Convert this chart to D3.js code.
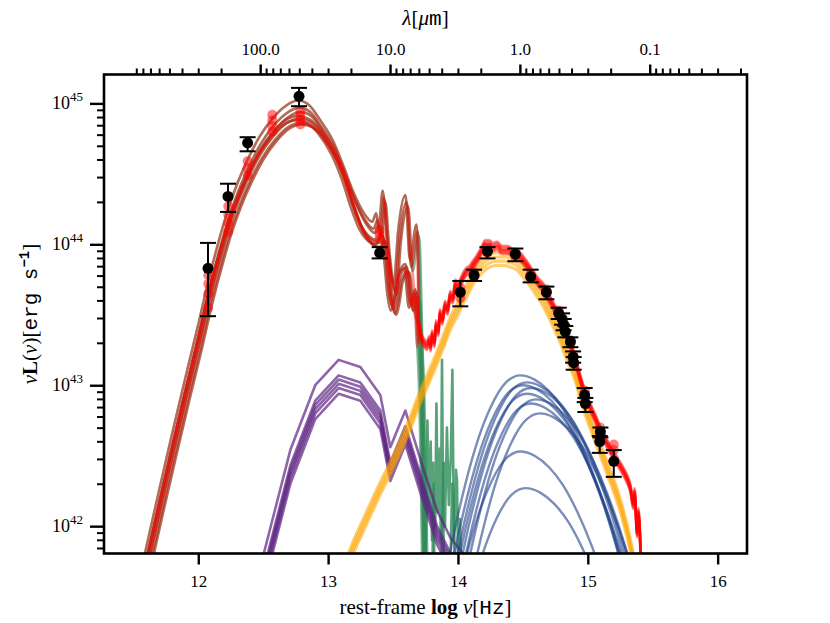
<!DOCTYPE html>
<html>
<head>
<meta charset="utf-8">
<script src="https://cdn.jsdelivr.net/npm/d3@7"></script>
<style>
body { margin: 0; background: #fff; }
text { font-family: "Liberation Serif", "DejaVu Serif", serif; fill: #000; }
.mono { font-family: "Liberation Mono", "DejaVu Sans Mono", monospace; }
</style>
</head>
<body>
<svg id="sed" width="830" height="623"></svg>
<script>
// all values are [log10 nu (Hz), log10 nuL (erg/s)]

// cold dust / starburst templates
var sbStrong = [[11.40,40.95],[11.50,41.38],[11.60,41.80],[11.70,42.21],[11.80,42.61],[11.90,43.00],[12.00,43.38],
	[12.08,43.70],[12.16,43.98],[12.23,44.20],[12.30,44.38],[12.38,44.55],[12.47,44.71],[12.57,44.84],[12.67,44.93],
	[12.77,44.97],[12.85,44.94],[12.94,44.83],[13.04,44.68],[13.12,44.50],[13.19,44.33],[13.27,44.18],[13.34,44.11],
	[13.37,44.17],[13.39,44.07],[13.42,44.33],[13.45,44.00],[13.475,43.79],[13.505,43.67],[13.54,44.05],[13.595,44.30],
	[13.63,43.84],[13.68,44.09],[13.705,43.35],[13.715,42.85],[13.725,42.25],[13.735,41.55]];
var sbWeak = [[11.40,40.90],[11.50,41.33],[11.60,41.75],[11.70,42.16],[11.80,42.56],[11.90,42.95],[12.00,43.33],
	[12.08,43.65],[12.16,43.93],[12.23,44.15],[12.30,44.33],[12.38,44.50],[12.47,44.66],[12.57,44.79],[12.67,44.88],
	[12.77,44.91],[12.85,44.89],[12.94,44.81],[13.04,44.66],[13.12,44.48],[13.19,44.28],[13.25,44.14],[13.30,44.07],
	[13.34,44.04],[13.38,44.03],[13.41,44.08],[13.44,43.94],[13.466,43.68],[13.492,43.56],[13.52,43.65],[13.543,43.79],
	[13.595,43.86],[13.633,43.58],[13.672,43.68],[13.697,43.30],[13.71,43.02],[13.72,42.62],[13.73,42.02],[13.74,41.50]];
var sbPick = ["s","s","s","w","w","w","w","w"];
var sbShiftNu = [0, 0.01, 0.02, 0, 0.01, -0.01, 0.02, 0.03];
var sbShiftL = [0.05, 0, -0.03, 0, -0.02, -0.03, -0.05, -0.06];
var sbNoise = [
	[[13.75,41.6],[13.765,42.75],[13.775,42.1],[13.79,42.6],[13.80,41.9],[13.81,42.45],[13.82,41.6]],
	[[13.80,41.6],[13.815,42.3],[13.825,42.0],[13.834,42.87],[13.845,42.1],[13.86,42.55],[13.868,41.9],[13.877,43.18],[13.886,42.1],[13.895,41.6]],
	[[13.87,41.6],[13.89,42.45],[13.90,42.0],[13.915,42.7],[13.93,42.15],[13.945,42.5],[13.957,43.11],[13.966,42.2],[13.975,41.6]],
	[[13.94,41.6],[13.955,42.3],[13.97,41.9],[13.985,42.4],[13.993,42.32],[14.00,41.8],[14.015,42.05],[14.03,41.6]]
];

// torus
var torusBase = [[12.40,41.40],[12.503,41.80],[12.709,42.54],[12.901,43.00],[13.081,43.18],[13.248,43.13],[13.402,42.93],
	[13.479,42.56],[13.595,42.82],[13.736,42.40],[13.839,42.11],[13.941,41.92],[14.044,41.80],[14.15,41.65]];
var torusShiftL = [0, -0.11, -0.14, -0.17, -0.20, -0.24];

// host galaxy stars
var starBase = [[13.10,41.62],[13.17,41.80],[13.30,42.07],[13.40,42.27],[13.48,42.42],[13.56,42.58],[13.63,42.73],
	[13.70,42.90],[13.77,43.05],[13.83,43.18],[13.89,43.32],[13.94,43.44],[14.00,43.55],[14.04,43.63],[14.08,43.70],
	[14.12,43.77],[14.16,43.82],[14.20,43.86],[14.25,43.89],[14.30,43.90],[14.35,43.90],[14.40,43.89],[14.45,43.87],
	[14.50,43.82],[14.55,43.76],[14.60,43.69],[14.65,43.62],[14.70,43.53],[14.74,43.45],[14.78,43.37],[14.82,43.27],
	[14.86,43.18],[14.90,43.09],[14.94,42.96],[14.98,42.84],[15.02,42.74],[15.06,42.64],[15.10,42.54],[15.14,42.44],
	[15.18,42.34],[15.22,42.24],[15.26,42.12],[15.30,41.98],[15.33,41.86],[15.36,41.72]];
var starShiftL = [0.04, 0.01, -0.02, -0.05];

// big blue bump: shape relative to its peak, and the peaks
var bbbShape = [[-0.62,-1.65],[-0.52,-1.16],[-0.42,-0.76],[-0.32,-0.44],[-0.22,-0.21],[-0.11,-0.05],[0,0],
	[0.11,-0.03],[0.22,-0.11],[0.33,-0.24],[0.44,-0.43],[0.55,-0.67],[0.66,-0.96],[0.77,-1.31],[0.88,-1.71]];
var bbbPeakNu = [14.48, 14.53, 14.50, 14.56, 14.53, 14.60, 14.56, 14.63, 14.48, 14.52];
var bbbPeakL = [43.07, 43.02, 43.00, 42.98, 42.94, 42.90, 42.87, 42.80, 42.53, 42.27];

// total model beyond the dust cut-off
var totalOpt = [[13.70,43.42],[13.72,43.33],[13.74,43.30],[13.76,43.28],[13.78,43.32],[13.79,43.27],[13.80,43.36],
	[13.82,43.30],[13.83,43.43],[13.85,43.38],[13.86,43.51],[13.88,43.46],[13.90,43.57],[13.92,43.53],[13.94,43.64],
	[13.96,43.61],[13.98,43.72],[14.00,43.70],[14.03,43.75],[14.06,43.80],[14.09,43.82],[14.12,43.86],[14.15,43.90],
	[14.18,43.95],[14.21,44.00],[14.24,44.00],[14.27,43.98],[14.30,43.99],[14.34,43.96],[14.38,43.96],[14.42,43.94],
	[14.46,43.93],[14.50,43.89],[14.54,43.84],[14.58,43.78],[14.62,43.73],[14.66,43.69],[14.70,43.62],[14.74,43.55],
	[14.78,43.48],[14.82,43.40],[14.86,43.30],[14.89,43.22],[14.92,43.12],[14.95,43.02],[14.98,42.93],[15.02,42.84],
	[15.06,42.76],[15.10,42.67],[15.14,42.60],[15.18,42.53],[15.22,42.47],[15.26,42.41],[15.30,42.34],[15.33,42.26],
	[15.35,42.15],[15.36,42.24],[15.38,41.95],[15.39,42.10],[15.41,41.70]];
var totalOptShiftL = [0.02, 0, -0.02, 0.03, -0.01, 0.01, -0.03, 0];
var totalCut = 13.70;

// model photometry
var modelNu = [12.077, 12.231, 12.380, 12.570, 12.786, 13.397, 14.018, 14.124, 14.227, 14.442, 14.560, 14.681,
	14.776, 14.814, 14.866, 14.889, 14.978, 15.095, 15.200];
var modelL = [[43.78,43.72,43.65,43.55],[44.27,44.21,44.15,44.09],[44.59,44.54,44.49],[44.92,44.88,44.84,44.80],
	[44.94,44.91,44.88,44.85],[44.10,44.07,44.04],[43.69,43.65,43.62],[43.80,43.77],[43.97,43.94],[43.94,43.91],
	[43.79,43.76],[43.68,43.65],[43.53,43.50],[43.44,43.41],[43.32,43.29],[43.21,43.17],[42.96,42.91],[42.70,42.65],
	[42.58,42.54]];

// observed photometry
var obsNu = [12.075, 12.229, 12.380, 12.776, 13.397, 14.018, 14.124, 14.227, 14.442, 14.560, 14.681, 14.776,
	14.802, 14.814, 14.827, 14.866, 14.887, 14.891, 14.976, 14.981, 15.097, 15.092, 15.200];
var obsL = [43.83, 44.34, 44.72, 45.05, 43.94, 43.66, 43.78, 43.95, 43.93, 43.77, 43.66, 43.51,
	43.47, 43.43, 43.38, 43.31, 43.20, 43.16, 42.93, 42.87, 42.67, 42.60, 42.46];
var obsHi = [44.01, 44.43, 44.76, 45.11, 43.98, 43.74, 43.82, 43.98, 43.97, 43.82, 43.70, 43.55,
	43.51, 43.47, 43.42, 43.34, 43.24, 43.20, 42.98, 42.91, 42.70, 42.64, 42.54];
var obsLo = [43.49, 44.23, 44.66, 44.98, 43.90, 43.56, 43.74, 43.90, 43.88, 43.73, 43.61, 43.47,
	43.43, 43.39, 43.34, 43.27, 43.16, 43.11, 42.88, 42.81, 42.63, 42.52, 42.35];

var xMajor = [12, 13, 14, 15, 16];
var yMajor = [42, 43, 44, 45];
var lamMajor = [100, 10, 1, 0.1];
var lamLabels = ["100.0", "10.0", "1.0", "0.1"];

var m = {l: 104, r: 747, t: 74.5, b: 553.5};
var cLight = 2.998e14; // micron / s

var svg = d3.select("#sed");

var x = d3.scaleLinear().domain([11.274, 16.226]).range([m.l, m.r]);
var y = d3.scaleLog().domain([Math.pow(10, 41.806), Math.pow(10, 45.205)]).range([m.b, m.t]);

svg.append("clipPath").attr("id", "box")
	.append("rect").attr("x", m.l).attr("y", m.t).attr("width", m.r - m.l).attr("height", m.b - m.t);

var plot = svg.append("g").attr("clip-path", "url(#box)");

var smooth = d3.line()
	.x(function(d){ return x(d[0]); })
	.y(function(d){ return y(Math.pow(10, d[1])); })
	.curve(d3.curveMonotoneX);
var straight = d3.line()
	.x(function(d){ return x(d[0]); })
	.y(function(d){ return y(Math.pow(10, d[1])); });

function shift(pts, dv, dL){
	return pts.map(function(p){ return [p[0] + dv, p[1] + dL]; });
}

function drawCurve(pts, gen, color, op, w){
	plot.append("path")
		.attr("d", gen(pts))
		.attr("fill", "none")
		.attr("stroke", color)
		.attr("stroke-opacity", op)
		.attr("stroke-width", w)
		.attr("stroke-linejoin", "round");
}

// starburst
var sbRuns = [];
for(var i = 0; i < sbPick.length; i++){
	var base = sbPick[i] == "s" ? sbStrong : sbWeak;
	sbRuns.push(shift(base, sbShiftNu[i], sbShiftL[i]));
	drawCurve(sbRuns[i], smooth, "#2e8b57", 0.6, 2.6);
}
for(var i = 0; i < sbNoise.length; i++){
	drawCurve(sbNoise[i], straight, "#2e8b57", 0.8, 2.6);
}

// torus
for(var i = 0; i < torusShiftL.length; i++){
	drawCurve(shift(torusBase, 0, torusShiftL[i]), straight, "#5e2483", 0.7, 2.6);
}

// big blue bump
for(var i = 0; i < bbbPeakNu.length; i++){
	drawCurve(shift(bbbShape, bbbPeakNu[i], bbbPeakL[i]), smooth, "#22438a", 0.6, 2.4);
}

// stars
for(var i = 0; i < starShiftL.length; i++){
	drawCurve(shift(starBase, 0, starShiftL[i]), smooth, "#ffa500", 0.55, 3.2);
}

// total
for(var i = 0; i < sbRuns.length; i++){
	var head = sbRuns[i].filter(function(p){ return p[0] < totalCut; });
	var tail = shift(totalOpt, 0, totalOptShiftL[i]).filter(function(p){ return p[0] >= totalCut; });
	drawCurve(head.concat(tail), smooth, "#ff0000", 0.42, 2.6);
}

// model photometry
for(var i = 0; i < modelNu.length; i++){
	for(var j = 0; j < modelL[i].length; j++){
		plot.append("circle")
			.attr("cx", x(modelNu[i]))
			.attr("cy", y(Math.pow(10, modelL[i][j])))
			.attr("r", 5)
			.attr("fill", "#ff0000")
			.attr("fill-opacity", 0.5);
	}
}

// data with error bars
for(var i = 0; i < obsNu.length; i++){
	var cx = x(obsNu[i]);
	var yHi = y(Math.pow(10, obsHi[i]));
	var yLo = y(Math.pow(10, obsLo[i]));
	svg.append("line").attr("x1", cx).attr("x2", cx).attr("y1", yHi).attr("y2", yLo)
		.attr("stroke", "#000").attr("stroke-width", 2);
	svg.append("line").attr("x1", cx - 8).attr("x2", cx + 8).attr("y1", yHi).attr("y2", yHi)
		.attr("stroke", "#000").attr("stroke-width", 2);
	svg.append("line").attr("x1", cx - 8).attr("x2", cx + 8).attr("y1", yLo).attr("y2", yLo)
		.attr("stroke", "#000").attr("stroke-width", 2);
	svg.append("circle").attr("cx", cx).attr("cy", y(Math.pow(10, obsL[i]))).attr("r", 5.5).attr("fill", "#000");
}

// axes
function styleAxis(g, w){
	g.select(".domain").remove();
	g.selectAll(".tick line").attr("stroke", "#000").attr("stroke-width", w);
	g.selectAll(".tick text").attr("font-size", 17).attr("font-family", "Liberation Serif, DejaVu Serif, serif");
}

var gBottom = svg.append("g").attr("transform", "translate(0," + m.b + ")")
	.call(d3.axisBottom(x).tickValues(xMajor).tickSize(11).tickPadding(10).tickFormat(d3.format("d")));
styleAxis(gBottom, 2.4);

var nuOf = function(lam){ return Math.log10(cLight / lam); };
var lamMinor = [];
[0.01, 0.1, 1, 10, 100].forEach(function(dec){
	for(var k = 2; k <= 9; k++){
		var v = nuOf(k * dec);
		if(v > x.domain()[0] && v < x.domain()[1]) lamMinor.push(v);
	}
});
var gTop = svg.append("g").attr("transform", "translate(0," + m.t + ")")
	.call(d3.axisTop(x).tickValues(lamMajor.map(nuOf)).tickSize(10).tickPadding(10)
		.tickFormat(function(d, i){ return lamLabels[i]; }));
styleAxis(gTop, 2.4);
var gTopMinor = svg.append("g").attr("transform", "translate(0," + m.t + ")")
	.call(d3.axisTop(x).tickValues(lamMinor).tickSize(6).tickFormat(""));
styleAxis(gTopMinor, 2);

var yMinor = [];
for(var k = 41; k <= 45; k++){
	for(var j = 2; j <= 9; j++){
		var val = j * Math.pow(10, k);
		if(val > y.domain()[0] && val < y.domain()[1]) yMinor.push(val);
	}
}
var gLeft = svg.append("g").attr("transform", "translate(" + m.l + ",0)")
	.call(d3.axisLeft(y).tickValues(yMajor.map(function(e){ return Math.pow(10, e); })).tickSize(14).tickFormat(""));
styleAxis(gLeft, 2.4);
var gLeftMinor = svg.append("g").attr("transform", "translate(" + m.l + ",0)")
	.call(d3.axisLeft(y).tickValues(yMinor).tickSize(7).tickFormat(""));
styleAxis(gLeftMinor, 2);

yMajor.forEach(function(e){
	var t = svg.append("text")
		.attr("x", m.l - 21)
		.attr("y", y(Math.pow(10, e)) + 6)
		.attr("text-anchor", "end")
		.attr("font-size", 18);
	t.append("tspan").text("10");
	t.append("tspan").attr("dy", -8).attr("font-size", 13).text(e);
});

// frame
svg.append("rect")
	.attr("x", m.l).attr("y", m.t).attr("width", m.r - m.l).attr("height", m.b - m.t)
	.attr("fill", "none").attr("stroke", "#000").attr("stroke-width", 2.6);

// axis labels
var xl = svg.append("text").attr("x", (m.l + m.r) / 2).attr("y", 614).attr("text-anchor", "middle").attr("font-size", 21);
xl.append("tspan").text("rest-frame ");
xl.append("tspan").attr("font-weight", "bold").text("log");
xl.append("tspan").text(" ");
xl.append("tspan").attr("font-style", "italic").text("ν");
xl.append("tspan").text("[");
xl.append("tspan").attr("class", "mono").text("Hz");
xl.append("tspan").text("]");

var tl = svg.append("text").attr("x", (m.l + m.r) / 2).attr("y", 25).attr("text-anchor", "middle").attr("font-size", 21);
tl.append("tspan").attr("font-style", "italic").text("λ");
tl.append("tspan").text("[");
tl.append("tspan").attr("font-style", "italic").text("μ");
tl.append("tspan").attr("class", "mono").text("m");
tl.append("tspan").text("]");

var yl = svg.append("text")
	.attr("transform", "translate(37," + ((m.t + m.b) / 2) + ") rotate(-90)")
	.attr("text-anchor", "middle").attr("font-size", 21);
yl.append("tspan").attr("font-style", "italic").text("ν");
yl.append("tspan").attr("font-weight", "bold").text("L");
yl.append("tspan").text("(");
yl.append("tspan").attr("font-style", "italic").text("ν");
yl.append("tspan").text(")[");
yl.append("tspan").attr("class", "mono").text("erg s");
yl.append("tspan").attr("class", "mono").attr("dy", -8).attr("font-size", 14).attr("font-weight", "bold").text("−1");
yl.append("tspan").attr("dy", 8).text("]");
</script>
</body>
</html>
